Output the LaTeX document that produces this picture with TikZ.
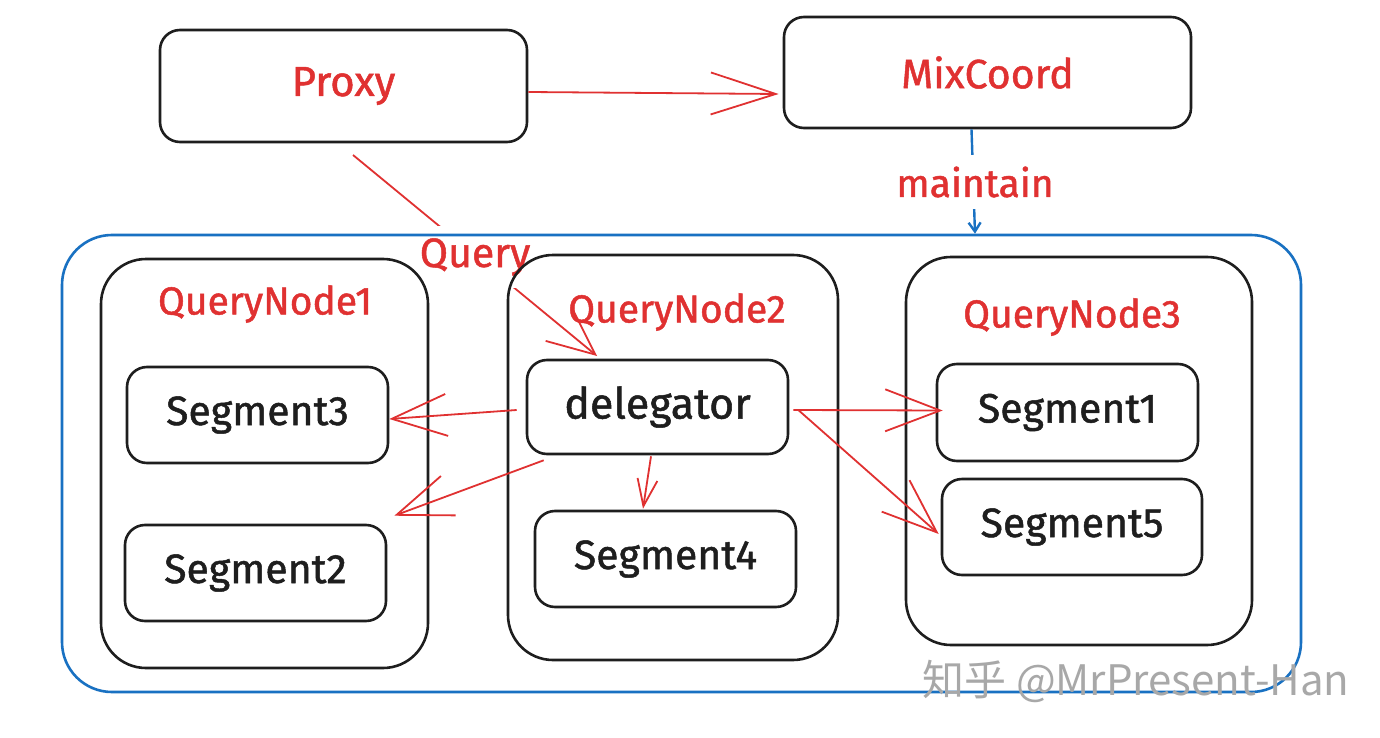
\documentclass[tikz,border=0pt]{standalone}
\usepackage{fontspec}
\setmainfont{Fira Sans}
\newfontfamily\lblfont[FakeBold=1.2]{Fira Sans}
\newfontfamily\cjk{Noto Sans CJK SC}
\usetikzlibrary{arrows.meta,calc}
\definecolor{exred}{HTML}{E03131}
\definecolor{exblue}{HTML}{1971C2}
\definecolor{exblack}{HTML}{1E1E1E}
\definecolor{wmgray}{HTML}{A8A8A8}
\begin{document}
\begin{tikzpicture}[x=1pt,y=-1pt,
  box/.style={draw=exblack, line width=2.6pt, rounded corners=20pt, inner sep=0pt},
  bigbox/.style={box, rounded corners=45pt},
  redlbl/.style={text=exred, font=\lblfont\fontsize{39}{42}\selectfont},
  blklbl/.style={text=exblack, font=\lblfont\fontsize{41}{44}\selectfont},
  redarr/.style={draw=exred, line width=1.8pt, -{Straight Barb[length=55pt,width=42pt]}},
  bluearr/.style={draw=exblue, line width=2.4pt, -{Straight Barb[length=9pt,width=12pt]}}
]
\fill[white] (0,0) rectangle (1380,738);
\useasboundingbox (0,0) rectangle (1380,738);

% Query connector (drawn first so that boxes stay on top of its label)
\coordinate (qs) at (353,155);
\coordinate (qe) at (597,356);
\draw[redarr, -{Straight Barb[length=47pt,width=42pt]}] (qs) -- (qe);
\node[redlbl, font=\lblfont\fontsize{41}{44}\selectfont, fill=white, inner xsep=4pt, inner ysep=12pt] (qlabel) at (475,257) {Query};

% top boxes
\node[box, minimum width=367pt, minimum height=112pt, redlbl, font=\lblfont\fontsize{42}{44}\selectfont] (proxy) at (343.5,86) {Proxy};
\node[box, minimum width=407pt, minimum height=111pt, redlbl, font=\lblfont\fontsize{41}{44}\selectfont] (mix) at (987.5,72.5) {MixCoord};

% query nodes
\node[bigbox, minimum width=327pt, minimum height=409pt] (qn1) at (264.5,463.5) {};
\node[bigbox, minimum width=330pt, minimum height=405pt] (qn2) at (673,457.5) {};
\node[bigbox, minimum width=346pt, minimum height=388pt] (qn3) at (1079,451) {};
\node[redlbl] (t1) at (265,304) {QueryNode1};
\node[redlbl] (t2) at (677,312) {QueryNode2};
\node[redlbl] (t3) at (1072,317) {QueryNode3};

% segments
\node[box, minimum width=261pt, minimum height=96pt, blklbl] (seg3) at (257.5,415) {Segment3};
\node[box, minimum width=261pt, minimum height=96pt, blklbl] (seg2) at (255.5,573) {Segment2};
\node[box, minimum width=261pt, minimum height=94pt, blklbl, font=\lblfont\fontsize{43}{46}\selectfont] (deleg) at (657.5,407) {delegator};
\node[box, minimum width=261pt, minimum height=96pt, blklbl] (seg4) at (665.5,559) {Segment4};
\node[box, minimum width=261pt, minimum height=97pt, blklbl] (seg1) at (1067.5,412.5) {Segment1};
\node[box, minimum width=260pt, minimum height=96pt, blklbl] (seg5) at (1072,527) {Segment5};

% arrows
\draw[redarr, -{Straight Barb[length=65pt,width=42pt]}] ([shift={(0,6)}]proxy.east) -- ([shift={(-4,21.5)}]mix.west);

\draw[redarr] ([shift={(-9,3)}]deleg.west) -- ([shift={(0,4)}]seg3.east);
\draw[redarr] ([shift={(18,5)}]deleg.south west) -- ([shift={(7,-8)}]seg2.north east);
\draw[redarr, -{Straight Barb[length=27pt,width=20pt]}] ([shift={(-6.5,1)}]deleg.south) -- ([shift={(-22.5,-1)}]seg4.north);
\draw[redarr] ([shift={(4,3)}]deleg.east) -- ([shift={(7,-2)}]seg1.west);
\draw[redarr] ([shift={(9,3)}]deleg.east) -- ([shift={(-2,7)}]seg5.west);

% outer blue frame
\node[draw=exblue, line width=2.6pt, rounded corners=50pt, minimum width=1239pt, minimum height=457pt, inner sep=0pt] (outer) at (681.5,463.5) {};

\draw[bluearr] ([xshift=-16pt]mix.south) -- ([xshift=-12.5pt]mix.south |- outer.north);
\node[redlbl, fill=white, inner sep=12pt] (mlabel) at (975,182) {maintain};

% watermark
\node[text=wmgray, font=\cjk\fontsize{42}{46}\selectfont, inner sep=0pt] (wm) at (1136,681) {知乎 @MrPresent-Han};
\end{tikzpicture}
\end{document}
